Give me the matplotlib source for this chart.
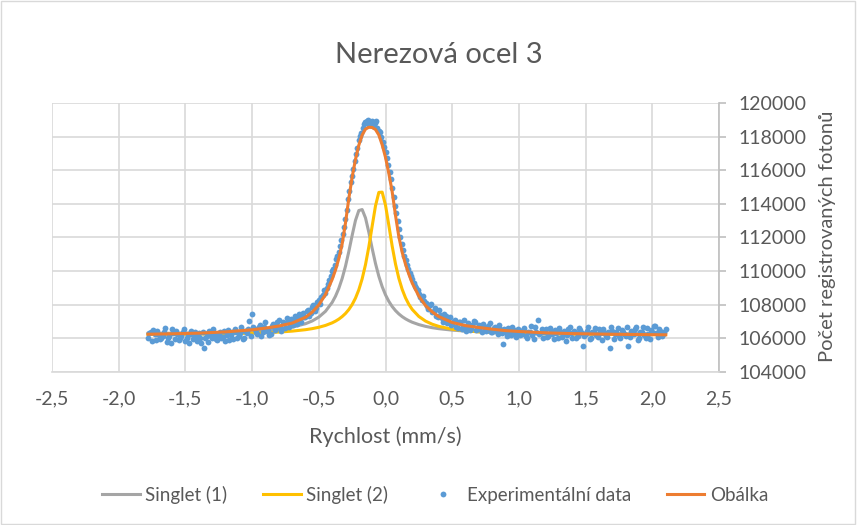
import matplotlib
matplotlib.use('Agg')
import matplotlib.pyplot as plt
from matplotlib.ticker import FuncFormatter, MultipleLocator
from matplotlib.patches import Rectangle

plt.rcParams['font.family'] = ['Lato', 'DejaVu Sans']

# fitted curves
x_fit = [-1.78, -1.6, -1.4, -1.2, -1.0, -0.9, -0.8, -0.7, -0.6, -0.55, -0.5, -0.45, -0.4,
         -0.375, -0.35, -0.325, -0.3, -0.275, -0.25, -0.225, -0.2, -0.175, -0.15, -0.125,
         -0.1, -0.075, -0.05, -0.025, 0.0, 0.025, 0.05, 0.075, 0.1, 0.125, 0.15, 0.175,
         0.2, 0.25, 0.3, 0.35, 0.4, 0.5, 0.6, 0.7, 0.8, 0.9, 1.0, 1.2, 1.4, 1.6, 1.8, 2.1]

singlet1 = [106296, 106308, 106328, 106362, 106421, 106471, 106546, 106664, 106871, 107033,
            107265, 107609, 108135, 108504, 108971, 109560, 110291, 111164, 112124, 113017,
            113604, 113663, 113168, 112313, 111351, 110454, 109694, 109078, 108589, 108202,
            107895, 107651, 107454, 107293, 107162, 107053, 106961, 106819, 106715, 106636,
            106576, 106491, 106435, 106396, 106368, 106348, 106332, 106310, 106296, 106286,
            106279, 106272]

singlet2 = [106234, 106242, 106256, 106276, 106311, 106337, 106375, 106431, 106516, 106578,
            106659, 106770, 106923, 107024, 107145, 107296, 107480, 107714, 108011, 108393,
            108891, 109541, 110385, 111444, 112676, 113883, 114682, 114699, 113926, 112726,
            111490, 110423, 109571, 108914, 108411, 108024, 107724, 107302, 107028, 106843,
            106713, 106546, 106449, 106387, 106346, 106317, 106296, 106267, 106250, 106239,
            106231, 106223]

obalka = [106249, 106272, 106311, 106386, 106510, 106610, 106734, 106908, 107255, 107553,
          107988, 108609, 109503, 110062, 110745, 111615, 112857, 114322, 115589, 116645,
          117489, 118098, 118446, 118558, 118545, 118421, 118098, 117514, 116769, 115813,
          114720, 113316, 112050, 111118, 110410, 109814, 109292, 108510, 107951, 107578,
          107293, 106945, 106759, 106647, 106547, 106461, 106411, 106330, 106284, 106256,
          106237, 106212]

# experimental data, even channels
x_data = [-1.78, -1.76, -1.74, -1.72, -1.70, -1.68, -1.66, -1.64, -1.62, -1.60,
          -1.58, -1.56, -1.54, -1.52, -1.50, -1.48, -1.46, -1.44, -1.42, -1.40,
          -1.38, -1.36, -1.34, -1.32, -1.30, -1.28, -1.26, -1.24, -1.22, -1.20,
          -1.18, -1.16, -1.14, -1.12, -1.10, -1.08, -1.06, -1.04, -1.02, -1.00,
          -0.98, -0.96, -0.94, -0.92, -0.90, -0.88, -0.86, -0.84, -0.82, -0.80,
          -0.78, -0.76, -0.74, -0.72, -0.70, -0.68, -0.66, -0.64, -0.62, -0.60,
          -0.58, -0.56, -0.54, -0.52, -0.50, -0.48, -0.46, -0.44, -0.42, -0.40,
          -0.38, -0.36, -0.34, -0.32, -0.30, -0.28, -0.26, -0.24, -0.22, -0.20,
          -0.18, -0.16, -0.14, -0.12, -0.10, -0.08, -0.06, -0.04, -0.02, 0.00,
          0.02, 0.04, 0.06, 0.08, 0.10, 0.12, 0.14, 0.16, 0.18, 0.20,
          0.22, 0.24, 0.26, 0.28, 0.30, 0.32, 0.34, 0.36, 0.38, 0.40,
          0.42, 0.44, 0.46, 0.48, 0.50, 0.52, 0.54, 0.56, 0.58, 0.60,
          0.62, 0.64, 0.66, 0.68, 0.70, 0.72, 0.74, 0.76, 0.78, 0.80,
          0.82, 0.84, 0.86, 0.88, 0.90, 0.92, 0.94, 0.96, 0.98, 1.00,
          1.02, 1.04, 1.06, 1.08, 1.10, 1.12, 1.14, 1.16, 1.18, 1.20,
          1.22, 1.24, 1.26, 1.28, 1.30, 1.32, 1.34, 1.36, 1.38, 1.40,
          1.42, 1.44, 1.46, 1.48, 1.50, 1.52, 1.54, 1.56, 1.58, 1.60,
          1.62, 1.64, 1.66, 1.68, 1.70, 1.72, 1.74, 1.76, 1.78, 1.80,
          1.82, 1.84, 1.86, 1.88, 1.90, 1.92, 1.94, 1.96, 1.98, 2.00,
          2.02, 2.04, 2.06, 2.08, 2.10]

y_data = [106050, 106350, 106500, 105900, 106200, 106000, 106400, 105800, 106150, 106550,
          105950, 106250, 106050, 106350, 105850, 106200, 106450, 105950, 106100, 106300,
          105750, 105400, 106150, 106450, 106000, 106250, 105900, 106350, 106100, 105850,
          106500, 106200, 105950, 106400, 106150, 106650, 106050, 106300, 107050, 107450,
          106550, 106250, 106800, 106400, 106950, 106500, 106250, 106850, 106600, 107100,
          106450, 106900, 107200, 106700, 107050, 107350, 106850, 107200, 107500, 107300,
          107700, 107500, 108000, 107800, 108300, 108450, 108900, 109000, 109500, 110000,
          110350, 110900, 111500, 112200, 113100, 114300, 115300, 116100, 116950, 117800,
          118200, 118750, 118900, 118700, 118950, 118800, 118500, 118250, 117700, 117100,
          116300, 115450, 114400, 113450, 112500, 111600, 110900, 110350, 109900, 109550,
          109100, 108900, 108450, 108500, 108100, 107750, 108050, 107600, 107350, 107700,
          107200, 107450, 106900, 107300, 106850, 107100, 106600, 107000, 106750, 106450,
          106900, 106600, 107050, 106500, 106800, 106350, 106700, 106500, 106900, 106400,
          106650, 106250, 106550, 105650, 106350, 106600, 106200, 106500, 106100, 106450,
          106250, 106600, 106050, 106400, 106200, 106700, 107100, 106300, 106050, 106550,
          106150, 106400, 105950, 106300, 106600, 106100, 106450, 106200, 106700, 106000,
          106350, 106150, 106500, 105550, 106250, 106650, 106050, 106400, 106200, 106550,
          105900, 106300, 106100, 105450, 106450, 106250, 106600, 106000, 106350, 106150,
          105550, 106450, 106250, 106700, 106050, 106400, 106200, 106600, 105950, 106350,
          106750, 106100, 106450, 106250, 106550]

# experimental data, odd channels
x_data_b = [-1.77, -1.75, -1.73, -1.71, -1.69, -1.67, -1.65, -1.63, -1.61, -1.59,
            -1.57, -1.55, -1.53, -1.51, -1.49, -1.47, -1.45, -1.43, -1.41, -1.39,
            -1.37, -1.35, -1.33, -1.31, -1.29, -1.27, -1.25, -1.23, -1.21, -1.19,
            -1.17, -1.15, -1.13, -1.11, -1.09, -1.07, -1.05, -1.03, -1.01, -0.99,
            -0.97, -0.95, -0.93, -0.91, -0.89, -0.87, -0.85, -0.83, -0.81, -0.79,
            -0.77, -0.75, -0.73, -0.71, -0.69, -0.67, -0.65, -0.63, -0.61, -0.59,
            -0.57, -0.55, -0.53, -0.51, -0.49, -0.47, -0.45, -0.43, -0.41, -0.39,
            -0.37, -0.35, -0.33, -0.31, -0.29, -0.27, -0.25, -0.23, -0.21, -0.19,
            -0.17, -0.15, -0.13, -0.11, -0.09, -0.07, -0.05, -0.03, -0.01, 0.01,
            0.03, 0.05, 0.07, 0.09, 0.11, 0.13, 0.15, 0.17, 0.19, 0.21,
            0.23, 0.25, 0.27, 0.29, 0.31, 0.33, 0.35, 0.37, 0.39, 0.41,
            0.43, 0.45, 0.47, 0.49, 0.51, 0.53, 0.55, 0.57, 0.59, 0.61,
            0.63, 0.65, 0.67, 0.69, 0.71, 0.73, 0.75, 0.77, 0.79, 0.81,
            0.83, 0.85, 0.87, 0.89, 0.91, 0.93, 0.95, 0.97, 0.99, 1.01,
            1.03, 1.05, 1.07, 1.09, 1.11, 1.13, 1.15, 1.17, 1.19, 1.21,
            1.23, 1.25, 1.27, 1.29, 1.31, 1.33, 1.35, 1.37, 1.39, 1.41,
            1.43, 1.45, 1.47, 1.49, 1.51, 1.53, 1.55, 1.57, 1.59, 1.61,
            1.63, 1.65, 1.67, 1.69, 1.71, 1.73, 1.75, 1.77, 1.79, 1.81,
            1.83, 1.85, 1.87, 1.89, 1.91, 1.93, 1.95, 1.97, 1.99, 2.01,
            2.03, 2.05, 2.07, 2.09]

y_data_b = [106300, 105850, 106250, 106450, 105950, 106150, 106600, 106050, 105700, 106300,
            106450, 105900, 106150, 106550, 106000, 105750, 106250, 106400, 105850, 106050,
            106350, 106000, 105800, 106200, 106550, 105950, 106150, 106000, 106450, 106200,
            105900, 106350, 106550, 106050, 106300, 105950, 106450, 106550, 106150, 106700,
            106350, 106650, 106150, 106700, 106450, 106200, 106750, 106500, 106950, 106650,
            107000, 106600, 106950, 107150, 106800, 107100, 107450, 107000, 107250, 107600,
            107350, 107850, 107650, 108150, 108050, 108600, 108700, 109250, 109700, 110150,
            110700, 111150, 111850, 112650, 113650, 114750, 115650, 116550, 117300, 118050,
            118500, 118850, 119000, 118800, 118650, 118900, 118350, 117950, 117400, 116700,
            115900, 114950, 113900, 113000, 112050, 111250, 110650, 110150, 109700, 109300,
            109000, 108650, 108300, 108250, 107950, 108000, 107550, 107800, 107250, 107400,
            107000, 107350, 107150, 106800, 107050, 106700, 106950, 106550, 107100, 106650,
            106500, 106800, 106950, 106550, 106650, 106850, 106450, 106750, 106350, 106600,
            106450, 106800, 106300, 106550, 106150, 106450, 106700, 106300, 106550, 106200,
            106500, 106150, 106350, 106750, 105950, 106400, 106250, 106550, 106350, 106100,
            106600, 106250, 106500, 106050, 106400, 106250, 105850, 106550, 106300, 106450,
            106000, 106600, 106300, 106150, 106450, 105950, 106350, 106600, 106100, 106300,
            106550, 106150, 106350, 106700, 105950, 106400, 106150, 106500, 106250, 106650,
            106100, 106300, 106550, 105900, 106400, 106650, 106050, 106250, 106500, 106750,
            106300, 106550, 106150, 106400]

txt = '#595959'
grid = '#d9d9d9'

fig = plt.figure(figsize=(8.57, 5.25), dpi=100)
ax = fig.add_axes([52 / 857, 1 - 372 / 525, 667 / 857, 269 / 525])

ax.plot(x_fit, singlet1, color='#a5a5a5', lw=2.2, label='Singlet (1)', zorder=2)
ax.plot(x_fit, singlet2, color='#ffc000', lw=2.2, label='Singlet (2)', zorder=3)
ax.plot(x_data + x_data_b, y_data + y_data_b, 'o', color='#5b9bd5', ms=4.2, mew=0,
        label='Experimentální data', zorder=4)
ax.plot(x_fit, obalka, color='#ed7d31', lw=2.2, label='Obálka', zorder=5)

ax.set_xlim(-2.5, 2.5)
ax.set_ylim(104000, 120000)
ax.xaxis.set_major_locator(MultipleLocator(0.5))
ax.yaxis.set_major_locator(MultipleLocator(2000))
ax.xaxis.set_major_formatter(FuncFormatter(lambda v, p: ('%.1f' % v).replace('.', ',')))
ax.grid(True, color=grid, lw=1.2, zorder=0)
ax.set_axisbelow(True)

ax.yaxis.tick_right()
for s in ['top', 'left']:
    ax.spines[s].set_visible(False)
ax.spines['bottom'].set_color(grid)
ax.spines['bottom'].set_linewidth(1.2)
ax.spines['right'].set_color('#bfbfbf')
ax.spines['right'].set_linewidth(1.2)
ax.tick_params(axis='x', length=0, pad=13, labelsize=14, labelcolor=txt)
ax.tick_params(axis='y', length=5, width=1.2, color='#bfbfbf', pad=9, labelsize=14, labelcolor=txt)

fig.text(0.512, 0.895, 'Nerezová ocel 3', ha='center', va='center', fontsize=21, color=txt)
fig.text(385 / 857, 1 - 437 / 525, 'Rychlost (mm/s)', ha='center', va='center', fontsize=15.5, color=txt)
fig.text(828 / 857, 1 - 236 / 525, 'Počet registrovaných fotonů', ha='center', va='center',
         rotation=90, fontsize=14.5, color=txt)

leg = fig.legend(loc='center', bbox_to_anchor=(0.508, 1 - 495 / 525), ncol=4, frameon=False,
                 fontsize=13.5, handlelength=2.0, columnspacing=1.9, handletextpad=0.3)
for t in leg.get_texts():
    t.set_color(txt)

# outer chart border
fig.patches.append(Rectangle((0.001, 0.002), 0.997, 0.996, transform=fig.transFigure,
                             fill=False, edgecolor=grid, lw=1))

fig.savefig('out.png', dpi=100)
